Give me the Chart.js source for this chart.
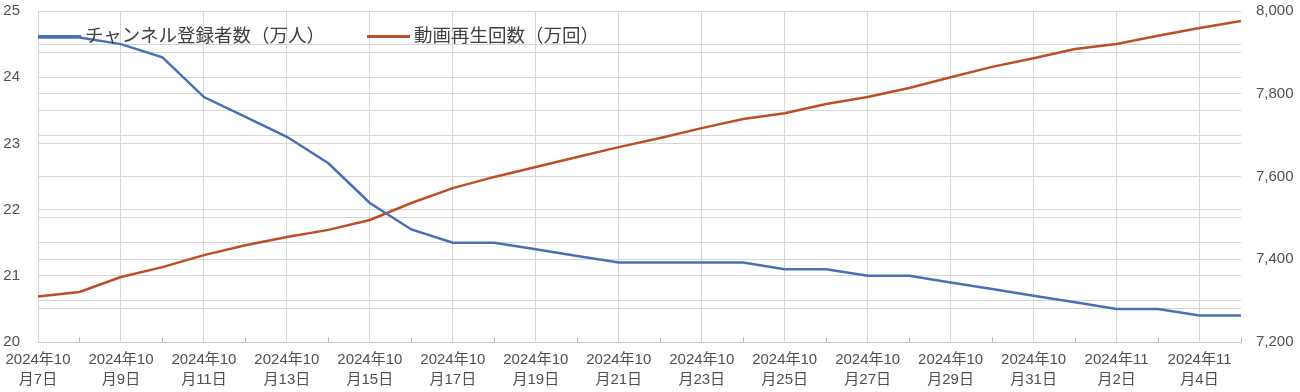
<!DOCTYPE html>
<html>
<head>
<meta charset="utf-8">
<script src="https://cdn.jsdelivr.net/npm/chart.js@4"></script>
<style>
  html, body { margin: 0; padding: 0; background: #fff; }
  #wrap { width: 1300px; height: 392px; position: relative; }
  #legend { position: absolute; left: 38px; top: 22px; display: flex; align-items: center;
            font-family: 'Noto Sans CJK JP', sans-serif; font-size: 18.5px; line-height: 24px; color: #404040;
            white-space: nowrap; }
  #legend .item { display: flex; align-items: center; margin-right: 42px; }
  #legend .swatch { width: 43px; height: 3px; margin-right: 4px; margin-top: 4px; }
</style>
</head>
<body>
<div id="wrap"><canvas id="c"></canvas><div id="legend"></div></div>
<script>
// ---- data ----
const dates = [
  '2024-10-07','2024-10-08','2024-10-09','2024-10-10','2024-10-11','2024-10-12',
  '2024-10-13','2024-10-14','2024-10-15','2024-10-16','2024-10-17','2024-10-18',
  '2024-10-19','2024-10-20','2024-10-21','2024-10-22','2024-10-23','2024-10-24',
  '2024-10-25','2024-10-26','2024-10-27','2024-10-28','2024-10-29','2024-10-30',
  '2024-10-31','2024-11-01','2024-11-02','2024-11-03','2024-11-04','2024-11-05'
];
const subscribers = [
  24.6, 24.6, 24.5, 24.3, 23.7, 23.4, 23.1, 22.7, 22.1, 21.7,
  21.5, 21.5, 21.4, 21.3, 21.2, 21.2, 21.2, 21.2, 21.1, 21.1,
  21.0, 21.0, 20.9, 20.8, 20.7, 20.6, 20.5, 20.5, 20.4, 20.4
];
const views = [
  7310, 7321, 7357, 7381, 7410, 7434, 7454, 7471, 7495, 7536,
  7572, 7599, 7623, 7647, 7671, 7693, 7717, 7739, 7753, 7775,
  7792, 7814, 7840, 7865, 7886, 7908, 7920, 7940, 7959, 7976
];
const seriesNames = ['チャンネル登録者数（万人）', '動画再生回数（万回）'];
const leftTicks = [20, 21, 22, 23, 24, 25];
const rightTicks = [7200, 7400, 7600, 7800, 8000];

// tick label text for each date, e.g. ["2024年10", "月7日"]
const tickLabels = dates.map(s => {
  const [y, m, d] = s.split('-').map(Number);
  return [y + '年' + m, '月' + d + '日'];
});

const GRID = '#d6d6d6';
const TEXT = '#505050';
const FONT = "'Liberation Sans', 'Noto Sans CJK JP', sans-serif";

const fmt = v => String(v).replace(/\B(?=(\d{3})+(?!\d))/g, ',');

// small inner tick marks for the unlabeled days on the x axis
const minorTicks = {
  id: 'minorTicks',
  afterDatasetsDraw(chart) {
    const x = chart.scales.x, ctx = chart.ctx, b = chart.chartArea.bottom;
    ctx.save();
    ctx.strokeStyle = '#bdbdbd';
    ctx.lineWidth = 1;
    x.ticks.forEach((t, i) => {
      if (i % 2 === 1) {
        const px = Math.round(x.getPixelForTick(i)) + 0.5;
        ctx.beginPath();
        ctx.moveTo(px, b);
        ctx.lineTo(px, b - 5);
        ctx.stroke();
      }
    });
    ctx.restore();
  }
};

// HTML legend built from the chart's own legend items, placed over the plot
const htmlLegend = {
  id: 'htmlLegend',
  afterUpdate(chart) {
    const box = document.getElementById('legend');
    box.innerHTML = '';
    const items = chart.options.plugins.legend.labels.generateLabels(chart);
    items.forEach(it => {
      const el = document.createElement('div');
      el.className = 'item';
      const sw = document.createElement('span');
      sw.className = 'swatch';
      sw.style.background = it.strokeStyle;
      const tx = document.createElement('span');
      tx.textContent = it.text;
      el.appendChild(sw);
      el.appendChild(tx);
      box.appendChild(el);
    });
  }
};

const vFit = w => s => { s.width = w; s.paddingTop = 0; s.paddingBottom = 0; };

new Chart(document.getElementById('c'), {
  type: 'line',
  data: {
    labels: tickLabels,
    datasets: [
      {
        label: seriesNames[0],
        data: subscribers,
        yAxisID: 'y',
        borderColor: '#4a70b4',
        backgroundColor: '#4a70b4',
        borderWidth: 2.5,
        pointRadius: 0,
        tension: 0
      },
      {
        label: seriesNames[1],
        data: views,
        yAxisID: 'y2',
        borderColor: '#bd4f27',
        backgroundColor: '#bd4f27',
        borderWidth: 2.5,
        pointRadius: 0,
        tension: 0
      }
    ]
  },
  options: {
    responsive: true,
    maintainAspectRatio: false,
    animation: false,
    layout: { padding: { top: 11, left: 0, right: 0, bottom: 0 } },
    plugins: {
      tooltip: { enabled: false },
      legend: { display: false }
    },
    scales: {
      x: {
        type: 'category',
        offset: false,
        grid: {
          color: ctx => (ctx.index % 2 === 0 ? GRID : 'rgba(0,0,0,0)'),
          drawTicks: false
        },
        border: { display: true, color: '#c8c8c8' },
        ticks: {
          autoSkip: false,
          maxRotation: 0,
          minRotation: 0,
          padding: 8,
          color: TEXT,
          font: { family: FONT, size: 15, lineHeight: '20px' },
          callback: function (v, i) { return i % 2 === 0 ? this.getLabelForValue(v) : ''; }
        },
        afterFit: s => { s.height = 50; s.paddingLeft = 0; s.paddingRight = 0; }
      },
      y: {
        position: 'left',
        min: leftTicks[0],
        max: leftTicks[leftTicks.length - 1],
        grid: { color: GRID, drawTicks: false },
        border: { display: false },
        ticks: {
          stepSize: 0.5,
          padding: 18,
          color: TEXT,
          font: { family: FONT, size: 15 },
          callback: v => (leftTicks.includes(v) ? String(v) : '')
        },
        afterFit: vFit(38)
      },
      y2: {
        position: 'right',
        min: rightTicks[0],
        max: rightTicks[rightTicks.length - 1],
        grid: { color: GRID, drawTicks: false },
        border: { display: false },
        ticks: {
          stepSize: 100,
          padding: 15,
          color: TEXT,
          font: { family: FONT, size: 15 },
          callback: v => (rightTicks.includes(v) ? fmt(v) : '')
        },
        afterFit: vFit(59)
      }
    }
  },
  plugins: [minorTicks, htmlLegend]
});
</script>
</body>
</html>
